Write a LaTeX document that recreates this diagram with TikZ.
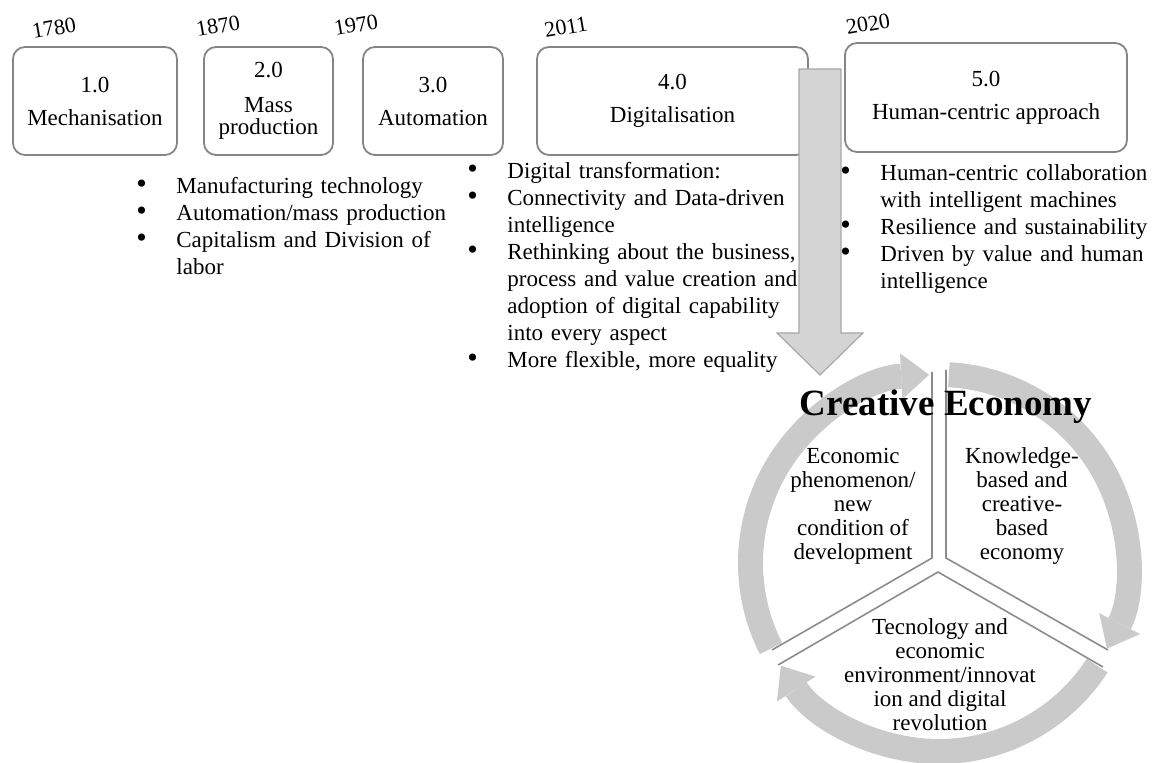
\documentclass[tikz,border=0pt]{standalone}
\usepackage{fontspec}
\setmainfont{Liberation Serif}
\usepackage{tikz}
\usetikzlibrary{positioning,arrows.meta}

\definecolor{boxgray}{HTML}{858585}
\definecolor{ringgray}{HTML}{CACACA}
\definecolor{arrowfill}{HTML}{D4D4D4}
\definecolor{arrowline}{HTML}{A8A8A8}
\definecolor{divgray}{HTML}{8C8C8C}

\newcommand{\boxfont}{\fontsize{11.5}{11}\selectfont}
\newcommand{\listfont}{\fontsize{11.5}{13.5}\selectfont}
\newcommand{\sectorfont}{\fontsize{11.5}{12}\selectfont}
\newcommand{\yearfont}{\fontsize{11}{11}\selectfont}
\newcommand{\titlefont}{\fontsize{18.5}{18.5}\selectfont\bfseries}
% one bullet point with hanging indent
\newcommand{\bpt}[1]{\hangindent=20pt\hangafter=1\noindent\makebox[20pt][l]{\scalebox{1.3}{\textbullet}}#1\par}

\begin{document}
\begin{tikzpicture}[x=0.5pt,y=-0.5pt,
  every node/.style={inner sep=0pt},
  phase/.style={draw=boxgray, line width=0.9pt, rounded corners=6pt, align=center, font=\boxfont, minimum height=54pt},
  year/.style={rotate=10, font=\yearfont},
  itemlist/.style={anchor=north west, text width=170pt, font=\listfont},
  sector/.style={align=center, font=\sectorfont},
  ring/.style={draw=ringgray, line width=12.5pt, -{Triangle[width=23pt,length=14pt,line width=0pt]}},
  divide/.style={draw=divgray, line width=0.8pt}]
\useasboundingbox (0,0) rectangle (1161,763);
% the five stages
\node[phase, minimum width=82pt] (p1) at (95,101) {1.0\\[5.5pt]Mechanisation};
\node[phase, minimum width=64.5pt] (p2) at (268.5,101) {2.0\\[6.5pt]Mass\\production};
\node[phase, minimum width=70pt] (p3) at (433,101) {3.0\\[5.5pt]Automation};
\node[phase, minimum width=135.5pt] (p4) at (672.5,101) {4.0\\[5.5pt]Digitalisation};
\node[phase, minimum width=141pt, minimum height=54.5pt] (p5) at (986,97.5) {5.0\\[5.5pt]Human-centric approach};
\node[year] (y1) at (54,28) {1780};
\node[year] (y2) at (218,26) {1870};
\node[year] (y3) at (356,25) {1970};
\node[year] (y4) at (566,27) {2011};
\node[year] (y5) at (868,24) {2020};
% big arrow down to the creative economy
\filldraw[fill=arrowfill, draw=arrowline, line width=0.6pt] (799,69) -- (841,69) -- (841,333) -- (863,333) -- (820,375) -- (777,333) -- (799,333) -- cycle;
% bullet lists
\node[itemlist] (la) at (136,177) {\raggedright\bpt{Manufacturing technology}\bpt{Automation/mass production}\bpt{Capitalism and Division of\newline labor}};
\node[itemlist] (lb) at (467,162) {\raggedright\bpt{Digital transformation:}\bpt{Connectivity and Data-driven\newline intelligence}\bpt{Rethinking about the business,\newline process and value creation and\newline adoption of digital capability\newline into every aspect}\bpt{More flexible, more equality}};
\node[itemlist] (lc) at (840,164) {\raggedright\bpt{Human-centric collaboration\newline with intelligent machines}\bpt{Resilience and sustainability}\bpt{Driven by value and human\newline intelligence}};
% cycle
\coordinate (rc) at (939,563);
\foreach \a in {207,87,-33}
  \draw[ring] (rc) ++(\a:94.25pt) arc[start angle=\a, delta angle=-114, radius=94.25pt];
\draw[divide] (932,372) -- (932,558) -- (772,650);
\draw[divide] (946,370) -- (946,558) -- (1108,650);
\draw[divide] (778,665) -- (938,572) -- (1103,667);
\node[font=\titlefont] (ce) at (946,407) {Creative Economy};
\node[sector] (s1) at (853,506) {Economic\\phenomenon/\\new\\condition of\\development};
\node[sector] (s2) at (1022,506) {Knowledge-\\based and\\creative-\\based\\economy};
\node[sector] (s3) at (940,675) {Tecnology and\\economic\\environment/innovat\\ion and digital\\revolution};
\end{tikzpicture}
\end{document}
